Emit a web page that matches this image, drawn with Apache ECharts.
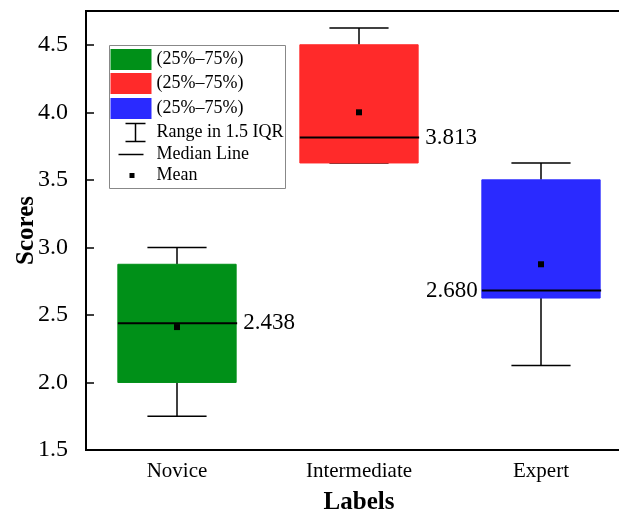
<!DOCTYPE html>
<html><head><meta charset="utf-8">
<script src="https://cdn.jsdelivr.net/npm/echarts@6/dist/echarts.min.js"></script>
<style>html,body{margin:0;padding:0;background:#fff;overflow:hidden}#c{width:619px;height:515px}</style>
</head><body><div id="c"></div>
<script>
const categories = ['Novice', 'Intermediate', 'Expert'];
const q1 = [2.0, 3.625, 2.625];
const q3 = [2.875, 4.5, 3.5];
const whiskerLow = [1.75, 3.625, 2.125];
const whiskerHigh = [3.0, 4.625, 3.625];
const medians = [2.438, 3.813, 2.680];
const means = [2.41, 4.0, 2.875];
const medianLabels = ['2.438', '3.813', '2.680'];
const yTicks = [1.5, 2.0, 2.5, 3.0, 3.5, 4.0, 4.5];
const legendLabels = ['(25%\u201375%)', '(25%\u201375%)', '(25%\u201375%)', 'Range in 1.5 IQR', 'Median Line', 'Mean'];

const boxColors = ['#009018', '#FF2A2A', '#2A2AFF'];
const labelSide = ['right', 'right', 'left'];
const FONT = 'Liberation Serif';

const data = categories.map((c, i) => [i, q1[i], q3[i], whiskerLow[i], whiskerHigh[i], medians[i], means[i]]);

function renderItem(params, api) {
  const i = api.value(0);
  const cx = api.coord([i, 0])[0];
  const bw = api.size([1, 0])[0] * 0.65;
  const yQ1 = api.coord([i, api.value(1)])[1];
  const yQ3 = api.coord([i, api.value(2)])[1];
  const yLo = api.coord([i, api.value(3)])[1];
  const yHi = api.coord([i, api.value(4)])[1];
  const yMed = api.coord([i, api.value(5)])[1];
  const yMean = api.coord([i, api.value(6)])[1];
  const cap = bw / 2;
  const lineStyle = { stroke: '#000', lineWidth: 1.5 };
  const side = labelSide[i];
  return {
    type: 'group',
    children: [
      { type: 'line', shape: { x1: cx, y1: yHi, x2: cx, y2: yQ3 }, style: lineStyle },
      { type: 'line', shape: { x1: cx, y1: yQ1, x2: cx, y2: yLo }, style: lineStyle },
      { type: 'line', shape: { x1: cx - cap / 2, y1: yHi, x2: cx + cap / 2, y2: yHi }, style: lineStyle },
      { type: 'line', shape: { x1: cx - cap / 2, y1: yLo, x2: cx + cap / 2, y2: yLo }, style: lineStyle },
      { type: 'rect', shape: { x: cx - bw / 2, y: yQ3, width: bw, height: yQ1 - yQ3 },
        style: { fill: boxColors[i], stroke: boxColors[i], lineWidth: 1, opacity: 1 } },
      { type: 'line', shape: { x1: cx - bw / 2, y1: yMed, x2: cx + bw / 2 + 1, y2: yMed }, style: { stroke: '#000', lineWidth: 2 } },
      { type: 'rect', shape: { x: cx - 3, y: yMean - 3, width: 6, height: 6 }, style: { fill: '#000' } },
      { type: 'text', x: side === 'right' ? cx + bw / 2 + 7 : cx - bw / 2 - 4, y: yMed,
        style: { text: medianLabels[i], fill: '#000', font: '23px "' + FONT + '"',
          align: side === 'right' ? 'left' : 'right', verticalAlign: 'middle' } }
    ]
  };
}

// legend as graphic
const lgX = 109, lgY = 45;
const legendChildren = [
  { type: 'rect', shape: { x: 0, y: 0, width: 176, height: 143 }, style: { fill: '#fff', stroke: '#888', lineWidth: 1 } }
];
const rowY = [14, 38, 63, 87, 109, 130];
for (let k = 0; k < 3; k++) {
  legendChildren.push({ type: 'rect', shape: { x: 1, y: rowY[k] - 10.5, width: 41, height: 21 }, style: { fill: boxColors[k] } });
}
legendChildren.push(
  { type: 'line', shape: { x1: 26, y1: rowY[3] - 9, x2: 26, y2: rowY[3] + 9 }, style: { stroke: '#000', lineWidth: 1.5 } },
  { type: 'line', shape: { x1: 16, y1: rowY[3] - 9, x2: 36, y2: rowY[3] - 9 }, style: { stroke: '#000', lineWidth: 1.5 } },
  { type: 'line', shape: { x1: 16, y1: rowY[3] + 9, x2: 36, y2: rowY[3] + 9 }, style: { stroke: '#000', lineWidth: 1.5 } },
  { type: 'line', shape: { x1: 9, y1: rowY[4], x2: 34, y2: rowY[4] }, style: { stroke: '#000', lineWidth: 1.5 } },
  { type: 'rect', shape: { x: 20, y: rowY[5] - 2.5, width: 5, height: 5 }, style: { fill: '#000' } }
);
for (let k = 0; k < 6; k++) {
  legendChildren.push({ type: 'text', x: 47, y: rowY[k],
    style: { text: legendLabels[k], fill: '#000', font: '18px "' + FONT + '"', verticalAlign: 'middle' } });
}

const chart = echarts.init(document.getElementById('c'), null, { renderer: 'canvas' });
chart.setOption({
  animation: false,
  backgroundColor: '#fff',
  grid: { left: 86, right: -13, top: 11, bottom: 65, outerBoundsMode: 'none', containLabel: false,
    show: true, borderColor: '#000', borderWidth: 2, backgroundColor: 'transparent' },
  xAxis: {
    type: 'category', data: categories, boundaryGap: true,
    name: 'Labels', nameLocation: 'middle', nameGap: 40, nameMoveOverlap: false,
    nameTextStyle: { fontFamily: FONT, fontSize: 25, fontWeight: 'bold', color: '#000' },
    axisLine: { lineStyle: { color: '#000', width: 2 } },
    axisTick: { inside: true, length: 8, alignWithLabel: true, lineStyle: { color: '#000', width: 1.5 } },
    axisLabel: { fontFamily: FONT, fontSize: 21, color: '#000', margin: 11 },
    splitLine: { show: false }
  },
  yAxis: {
    type: 'value', min: 1.5, max: 4.75, interval: 0.5,
    name: 'Scores', nameLocation: 'middle', nameGap: 47, nameMoveOverlap: false,
    nameTextStyle: { fontFamily: FONT, fontSize: 25, fontWeight: 'bold', color: '#000' },
    axisLine: { show: true, lineStyle: { color: '#000', width: 2 } },
    axisTick: { show: true, inside: true, length: 8, lineStyle: { color: '#000', width: 1.5 }, customValues: yTicks },
    axisLabel: { fontFamily: FONT, fontSize: 24, color: '#000', margin: 18, customValues: yTicks, formatter: v => v.toFixed(1) },
    splitLine: { show: false }
  },
  graphic: [{ type: 'group', left: lgX, top: lgY, z: 100, children: legendChildren }],
  series: [{
    type: 'custom', renderItem: renderItem, data: data,
    encode: { x: 0, y: [1, 2, 3, 4, 5, 6] }, clip: false, z: 10
  }]
});
</script></body></html>
